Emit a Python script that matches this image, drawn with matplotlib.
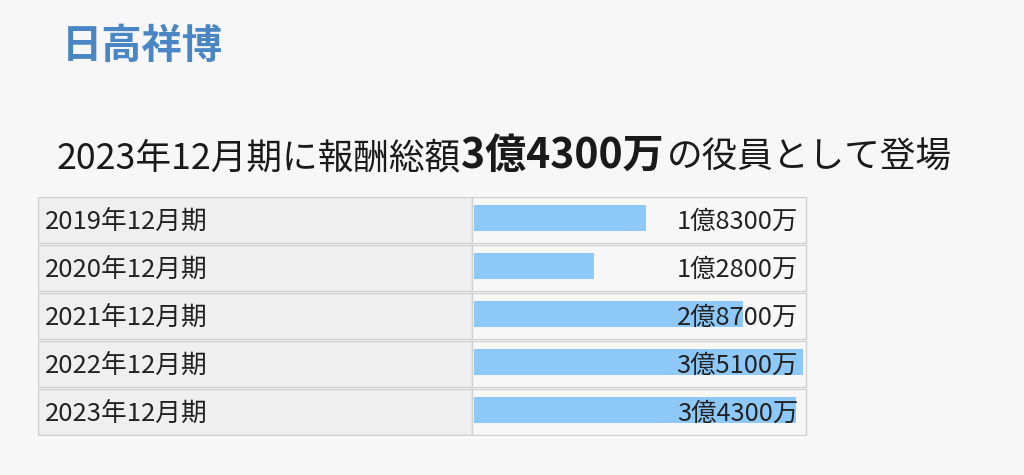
import matplotlib.pyplot as plt
from matplotlib.patches import Rectangle

plt.rcParams['font.family'] = ['Noto Sans CJK JP', 'DejaVu Sans']

# data (amounts in 億円)
periods = ['2019年12月期', '2020年12月期', '2021年12月期', '2022年12月期', '2023年12月期']
amounts = [1.83, 1.28, 2.87, 3.51, 3.43]
amount_labels = ['1億8300万', '1億2800万', '2億8700万', '3億5100万', '3億4300万']
name = '日高祥博'
headline = ['2023年12月期に報酬総額', '3億4300万', 'の役員として登場']

W, H = 1024, 475
bg = '#f7f7f8'
bar_color = '#8ec8f8'
edge = '#d0d0d0'


def fx(px):
    return px / W


def fy(py):
    return 1 - py / H


fig = plt.figure(figsize=(W / 100, H / 100), dpi=100)
fig.patch.set_facecolor(bg)

# table frame (pixel layout)
t_left, t_right, t_div = 38, 806, 472
t_top, pitch = 197, 48
t_bot = t_top + pitch * len(periods)

fig.add_artist(Rectangle((fx(t_left - 1), fy(t_bot + 1)), fx(t_right - t_left + 2),
                         (t_bot - t_top + 2) / H, transform=fig.transFigure,
                         facecolor='white', edgecolor='none', zorder=-3))
for i in range(len(periods)):
    top = t_top + pitch * i
    bot = top + pitch - 2
    fig.add_artist(Rectangle((fx(t_left), fy(bot)), fx(t_div - t_left), (bot - top) / H,
                             transform=fig.transFigure, facecolor='#efefef',
                             edgecolor=edge, lw=1, zorder=-2))
    fig.add_artist(Rectangle((fx(t_div), fy(bot)), fx(t_right - t_div), (bot - top) / H,
                             transform=fig.transFigure, facecolor=bg,
                             edgecolor=edge, lw=1, zorder=-2))

# label column
ax_l = fig.add_axes([fx(t_left), fy(t_bot), fx(t_div - t_left), (t_bot - t_top) / H])
ax_l.set_xlim(0, 1)
ax_l.set_ylim(len(periods) - 0.5, -0.5)
ax_l.axis('off')
for i, p in enumerate(periods):
    ax_l.text((45 - t_left) / (t_div - t_left), i + 0.02, p, fontsize=18.5,
              color='#222222', va='center', ha='left')

# bar column
px_per_unit = (803 - 474) / max(amounts)
ax_b = fig.add_axes([fx(t_div), fy(t_bot), fx(t_right - t_div), (t_bot - t_top) / H])
ax_b.set_xlim(-(474 - t_div) / px_per_unit, (t_right - 474) / px_per_unit)
ax_b.set_ylim(len(periods) - 0.5, -0.5)
ax_b.axis('off')
ypos = [i - 0.06 for i in range(len(periods))]
ax_b.barh(ypos, amounts, height=0.53, color=bar_color, zorder=1)
for i, lab in enumerate(amount_labels):
    ax_b.text((798 - t_div) / (t_right - t_div), i + 0.02, lab, fontsize=18.3,
              color='#222222', va='center', ha='right',
              transform=ax_b.get_yaxis_transform(), zorder=2)

# name
fig.text(fx(62), fy(58), name, fontsize=29, fontweight='bold', color='#4a86c4',
         va='baseline', ha='left')

# headline with a bold, larger middle part
renderer = fig.canvas.get_renderer()
x = 57
sizes = [25.7, 29.5, 25.7]
weights = ['normal', 'bold', 'normal']
gaps = [0, 3, 0]
for part, sz, wt, g in zip(headline, sizes, weights, gaps):
    t = fig.text(fx(x), fy(168), part, fontsize=sz, fontweight=wt, color='#1a1a1a',
                 va='baseline', ha='left')
    x += t.get_window_extent(renderer).width + g

fig.savefig('out.png', dpi=100, facecolor=fig.get_facecolor())
